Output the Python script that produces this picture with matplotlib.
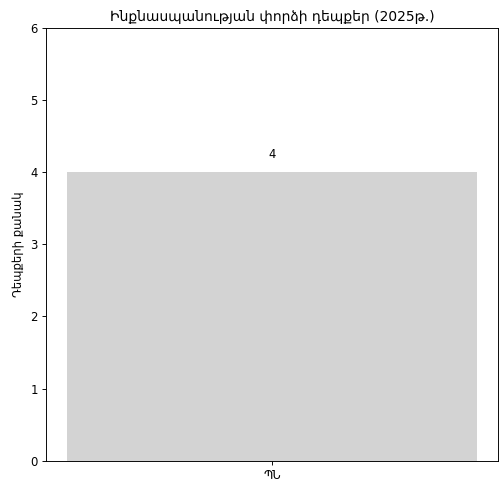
import matplotlib
matplotlib.use("Agg")
import matplotlib.pyplot as plt

categories = ["ՊՆ"]
values = [4]
title = "Ինքնասպանության փորձի դեպքեր (2025թ.)"
ylabel = "Դեպքերի քանակ"

DPI = 500 / 6.0
fig, ax = plt.subplots(figsize=(6.0, 479 / DPI), dpi=DPI)
bars = ax.bar(categories, values, color="lightgray", width=0.8)
for b, v in zip(bars, values):
    ax.text(b.get_x() + b.get_width() / 2, v + 0.15, str(v), ha="center", va="bottom", fontsize=10)
ax.set_ylim(0, 6)
ax.set_title(title)
ax.set_ylabel(ylabel)
fig.subplots_adjust(left=0.092, right=0.996, top=0.942, bottom=0.038)
fig.savefig("out.png", dpi=DPI)
